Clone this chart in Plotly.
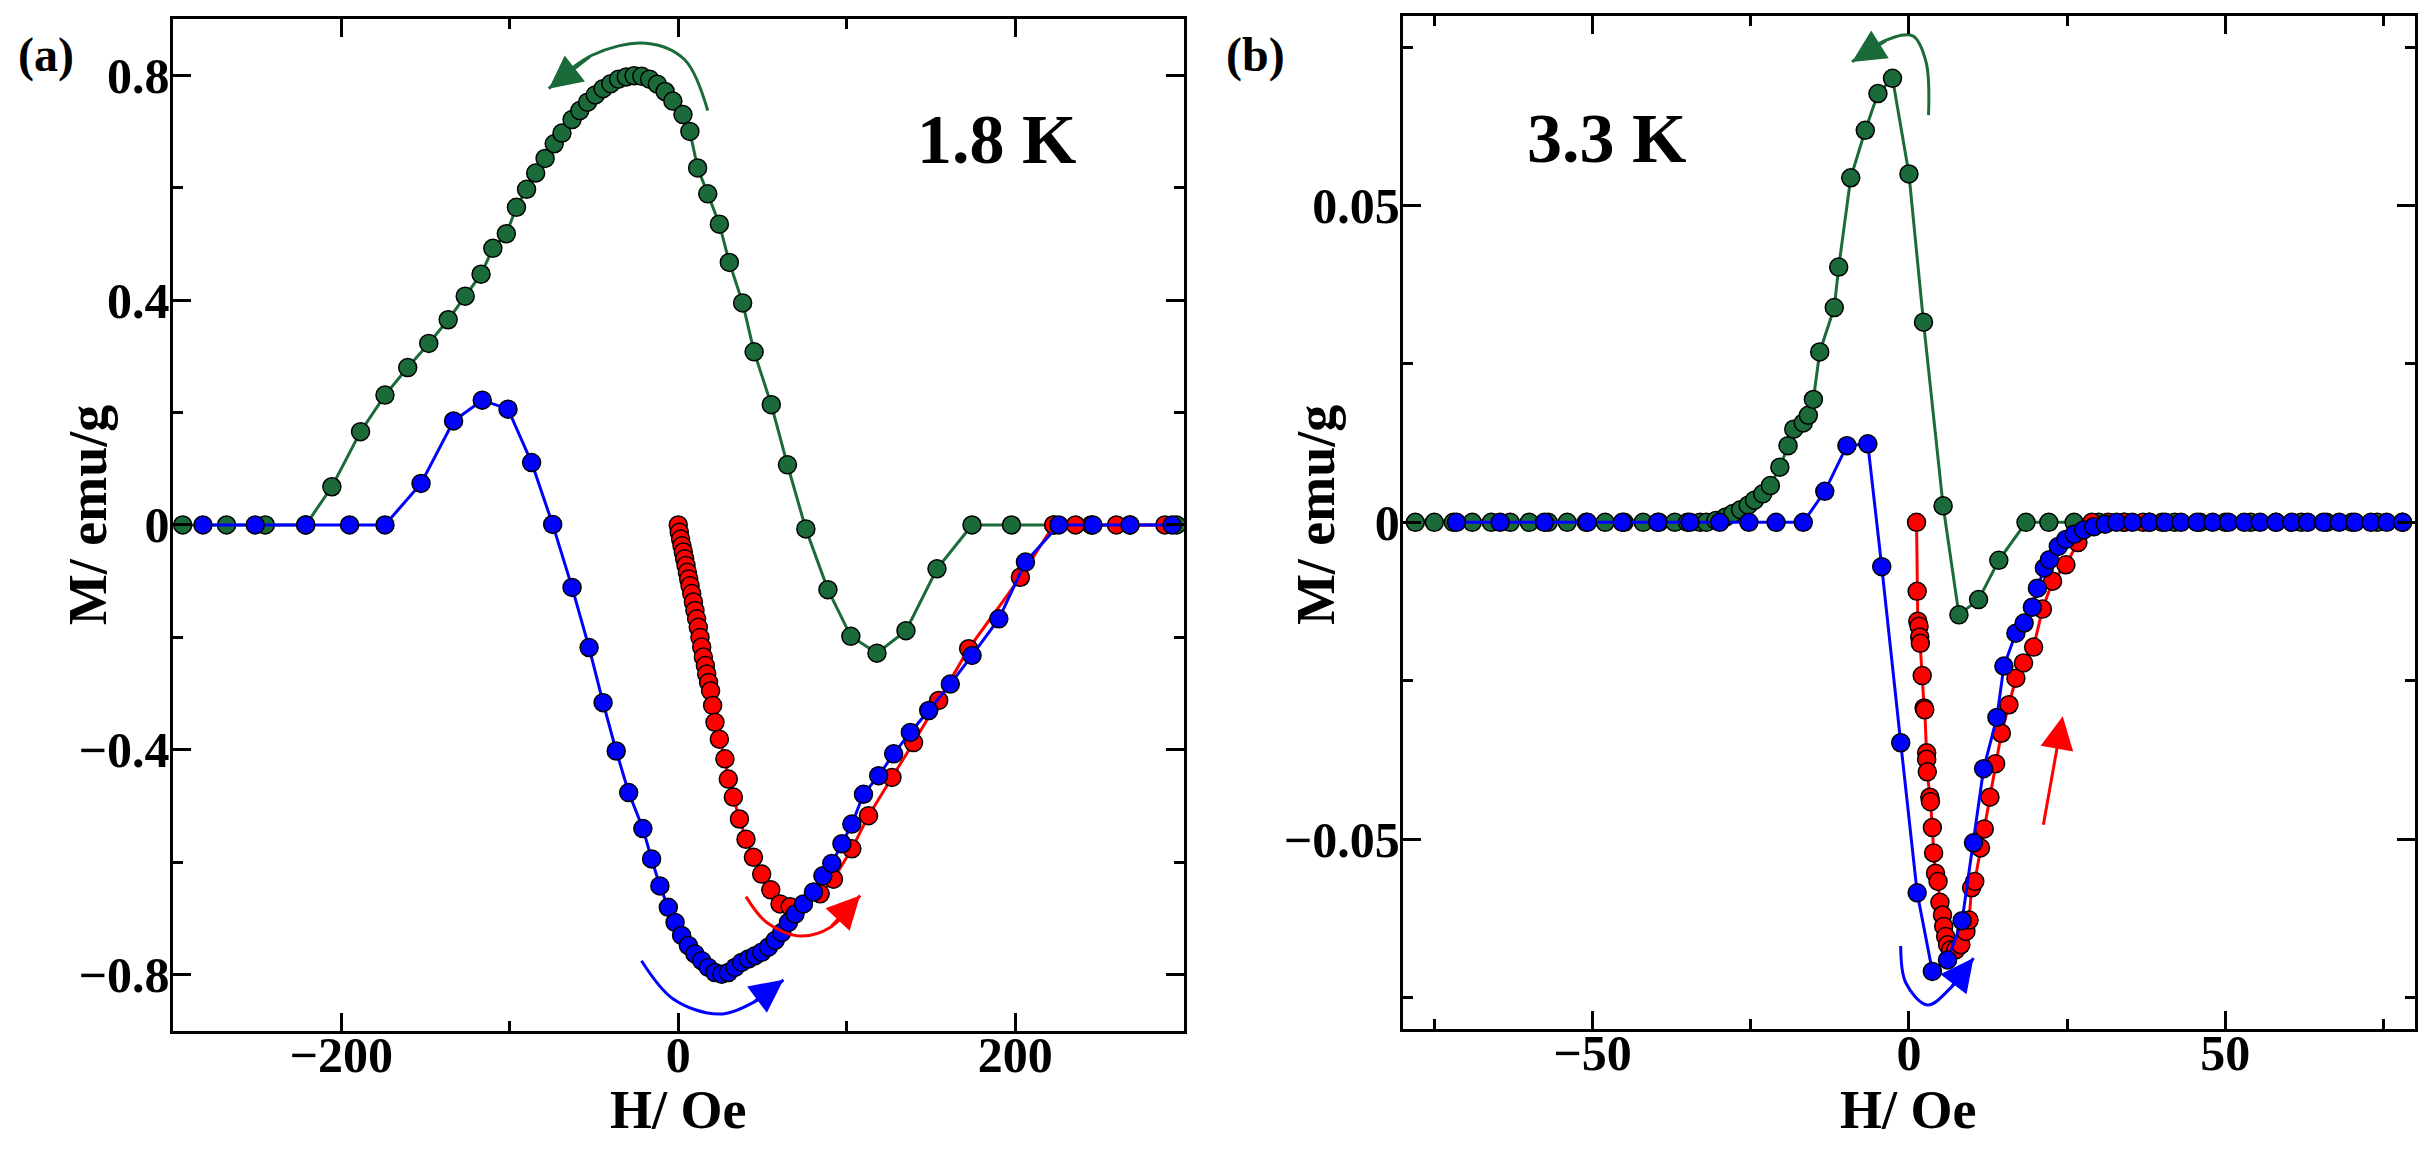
import plotly.graph_objects as go

# ── data ─────────────────────────────────────────────────────────────────────
# panel (a) 1.8 K
a_green_h = [-294, -268, -245, -221, -205.5, -188.5, -174, -160.5, -148, -136.5,
             -126.4, -117, -110, -102, -96, -90, -84.6, -79, -73.6, -69, -63,
             -58.4, -53.8, -49.2, -44.6, -40, -35.4, -30.8, -26.2, -21.6, -17,
             -12.4, -7.8, -3.2, 2.8, 6.9, 11.5, 17.5, 24.4, 30.3, 38.2, 45,
             55.2, 64.8, 75.7, 88.8, 102.4, 117.9, 135.1, 153.5, 174.3, 197.7,
             222.8, 245, 268, 295.6]
a_green_m = [0, 0, 0, 0, 0.068, 0.166, 0.231, 0.280, 0.323, 0.365,
             0.407, 0.446, 0.492, 0.518, 0.565, 0.597, 0.626, 0.652, 0.678, 0.697, 0.721,
             0.737, 0.752, 0.765, 0.776, 0.785, 0.793, 0.797, 0.799, 0.798, 0.793,
             0.784, 0.771, 0.754, 0.730, 0.700, 0.635, 0.589, 0.535, 0.467, 0.395, 0.308,
             0.214, 0.107, -0.007, -0.115, -0.198, -0.228, -0.188, -0.078, 0, 0,
             0, 0, 0, 0]

a_red_h = [0, 0.6, 1.4, 2.2, 3.0, 3.8, 4.6, 5.4, 6.2, 7.0, 8.0, 9.0, 9.9, 10.9,
           11.9, 12.9, 13.9, 14.9, 16.1, 16.9, 18.0, 19.2, 20.4, 21.8, 24.4, 27.7,
           29.7, 32.7, 36.3, 40.2, 44.6, 49.5, 54.9, 60.4, 66.4, 84.2, 92.1, 103.0,
           112.9, 126.8, 139.6, 154.5, 172.3, 203.0, 222.8, 235.7, 260, 288.7]
a_red_m = [0, -0.013, -0.025, -0.037, -0.048, -0.060, -0.072, -0.084, -0.096, -0.108,
           -0.122, -0.137, -0.152, -0.167, -0.182, -0.200, -0.217, -0.235, -0.250,
           -0.265, -0.280, -0.295, -0.321, -0.351, -0.381, -0.416, -0.452, -0.484,
           -0.523, -0.559, -0.591, -0.621, -0.649, -0.674, -0.679, -0.656, -0.630,
           -0.576, -0.517, -0.449, -0.387, -0.312, -0.220, -0.093, 0, 0, 0, 0]

a_blue_h = [-282, -251, -221, -195, -174, -152.6, -133.3, -116.3, -101, -87, -74.5,
            -63, -52.9, -44.6, -36.8, -29.4, -21, -15.8, -10.9, -5.9, -1.9, 2.0, 6.0,
            9.9, 13.9, 17.8, 21.8, 25.8, 29.7, 33.7, 37.6, 41.6, 45.6, 49.5, 53.5,
            57.5, 61.4, 65.4, 69.3, 74.3, 80.2, 85.8, 91.1, 97.1, 103.0, 109.9, 118.9,
            127.8, 137.7, 148.6, 161.4, 174.3, 190.2, 206.0, 225.8, 246, 268, 293]
a_blue_m = [0, 0, 0, 0, 0, 0.074, 0.185, 0.222, 0.206, 0.111, 0.001,
            -0.111, -0.218, -0.316, -0.402, -0.476, -0.540, -0.594, -0.642, -0.680,
            -0.707, -0.730, -0.748, -0.763, -0.775, -0.787, -0.796, -0.799, -0.796,
            -0.787, -0.778, -0.772, -0.766, -0.760, -0.751, -0.739, -0.725, -0.707,
            -0.692, -0.674, -0.653, -0.624, -0.602, -0.567, -0.532, -0.479, -0.446,
            -0.407, -0.369, -0.330, -0.283, -0.232, -0.167, -0.066, 0, 0, 0, 0]

# panel (b) 3.3 K
b_green_h = [-78, -75, -72, -69, -66, -63, -60, -57, -54, -51, -48, -45, -42,
             -39.5, -37, -35, -33, -32, -30.5, -29, -27.8, -26.6, -25.4, -24.4,
             -23.1, -21.9, -20.4, -19.1, -18.2, -16.7, -15.9, -15.1, -14.1, -11.8,
             -11.1, -9.2, -6.9, -4.9, -2.6, 0, 2.3, 5.4, 7.9, 11.0, 14.2, 18.5,
             22.1, 26.1, 30, 34, 38, 42, 46, 50, 54, 58, 62, 66, 70, 74, 78]
b_green_m = [0, 0, 0, 0, 0, 0, 0, 0, 0, 0, 0, 0, 0,
             0, 0, 0, 0, 0, 0.0003, 0.0008, 0.0014, 0.0020, 0.0027, 0.0035,
             0.0045, 0.0058, 0.0087, 0.0121, 0.0147, 0.0157, 0.0169, 0.0194, 0.0269,
             0.0339, 0.0403, 0.0544, 0.0619, 0.0677, 0.0701, 0.0550, 0.0316, 0.0026,
             -0.0146, -0.0122, -0.0060, 0, 0, 0, 0, 0, 0, 0, 0, 0, 0, 0, 0, 0, 0, 0, 0]

b_red_h = [1.2, 1.3, 1.4, 1.6, 1.7, 1.8, 2.1, 2.4, 2.5, 2.8, 2.8, 2.9, 3.3, 3.4,
           3.7, 3.9, 4.2, 4.6, 4.9, 5.3, 5.5, 5.8, 6.1, 6.6, 7.4, 8.2, 9.0, 9.5,
           9.9, 10.4, 11.3, 11.9, 12.8, 13.7, 14.6, 15.8, 16.9, 18.1, 19.7, 21.1,
           22.7, 24.8, 26.7, 28.9, 31.5, 34, 37, 40]
b_red_m = [0, -0.0109, -0.0156, -0.0164, -0.0181, -0.0191, -0.0242, -0.0293,
           -0.0296, -0.0364, -0.0374, -0.0394, -0.0434, -0.0441, -0.0482, -0.0522,
           -0.0554, -0.0567, -0.0600, -0.0620, -0.0638, -0.0654, -0.0667, -0.0675,
           -0.0675, -0.0667, -0.0646, -0.0628, -0.0577, -0.0567, -0.0514, -0.0484,
           -0.0434, -0.0381, -0.0333, -0.0288, -0.0246, -0.0222, -0.0197, -0.0137,
           -0.0093, -0.0067, -0.0032, 0, 0, 0, 0, 0]

b_blue_h = [-71.5, -64.6, -57.6, -50.8, -45.3, -39.7, -34.6, -29.9, -25.3, -21,
            -16.7, -13.3, -9.8, -6.5, -4.3, -1.3, 1.3, 3.7, 6.1, 8.4, 10.2, 11.8,
            13.9, 15.0, 16.9, 18.2, 19.5, 20.3, 21.4, 22.2, 23.6, 24.8, 26.1, 27.6,
            29.2, 31, 32.8, 35.3, 38, 40.5, 43, 45.5, 48, 50.5, 53, 55.5, 58, 60.5,
            63, 65.5, 68, 70.5, 73, 75.5, 78]
b_blue_m = [0, 0, 0, 0, 0, 0, 0, 0, 0, 0,
            0, 0.0049, 0.0121, 0.0124, -0.0070, -0.0348, -0.0585, -0.0709, -0.0691,
            -0.0629, -0.0506, -0.0389, -0.0308, -0.0227, -0.0175, -0.0159, -0.0134,
            -0.0104, -0.0072, -0.0059, -0.0038, -0.0027, -0.0019, -0.0012, -0.0007,
            -0.0003, 0, 0, 0, 0, 0, 0, 0, 0, 0, 0, 0, 0, 0, 0, 0, 0, 0, 0, 0]

# sweep-direction arrows (path points, last one is the tip)
a_arrow_green = ([17.5, 3.7, -19.3, -51.5, -76.8], [0.737, 0.828, 0.857, 0.835, 0.776])
a_arrow_red = ([40.2, 52.5, 72.3, 90.1, 107.9], [-0.661, -0.707, -0.731, -0.716, -0.659])
a_arrow_blue = ([-21.8, -3.0, 23.8, 44.6, 62.4], [-0.775, -0.843, -0.870, -0.849, -0.809])
b_arrow_green = ([3.1, 2.7, 0.6, -3.4, -9.0], [0.0643, 0.0727, 0.0768, 0.0762, 0.0727])
b_arrow_red = ([21.2, 24.3], [-0.0480, -0.0306])
b_arrow_blue = ([-1.3, -0.5, 2.9, 6.6, 10.2], [-0.0669, -0.0727, -0.0762, -0.0735, -0.0688])

# axes
a_xticks, a_xminor = [-200, 0, 200], [-300, -100, 100, 300]
a_yticks, a_ylabels = [-0.8, -0.4, 0, 0.4, 0.8], ["\u22120.8", "\u22120.4", "0", "0.4", "0.8"]
a_yminor = [-0.6, -0.2, 0.2, 0.6]
b_xticks, b_xminor = [-50, 0, 50], [-75, -25, 25, 75]
b_yticks, b_ylabels = [-0.05, 0, 0.05], ["\u22120.05", "0", "0.05"]
b_yminor = [-0.075, -0.025, 0.025, 0.075]

GREEN = "#1b6b3a"
RED = "#ff0000"
BLUE = "#0000ff"
FONT = "Liberation Serif"

fig = go.Figure()


def add_series(h, m, color, xa, ya):
    fig.add_trace(go.Scatter(
        x=h, y=m, mode="lines+markers", xaxis=xa, yaxis=ya,
        line=dict(color=color, width=3),
        marker=dict(size=18, color=color, line=dict(color="black", width=1.5)),
        showlegend=False, hoverinfo="skip",
    ))


def add_arrow(path, color, xa, ya):
    hx, my = path
    if len(hx) > 2:
        fig.add_trace(go.Scatter(
            x=hx, y=my, mode="lines", xaxis=xa, yaxis=ya,
            line=dict(color=color, width=3, shape="spline"),
            showlegend=False, hoverinfo="skip",
        ))
    fig.add_annotation(
        x=hx[-1], y=my[-1], ax=hx[-2], ay=my[-2],
        xref=xa, yref=ya, axref=xa, ayref=ya,
        text="", showarrow=True, arrowhead=2, arrowsize=2.2,
        arrowwidth=3, arrowcolor=color,
    )


# ── traces: green, red, blue (blue ends on top) ──────────────────────────────
add_series(a_green_h, a_green_m, GREEN, "x", "y")
add_series(a_red_h, a_red_m, RED, "x", "y")
add_series(a_blue_h, a_blue_m, BLUE, "x", "y")
add_series(b_green_h, b_green_m, GREEN, "x2", "y2")
add_series(b_red_h, b_red_m, RED, "x2", "y2")
add_series(b_blue_h, b_blue_m, BLUE, "x2", "y2")

add_arrow(a_arrow_green, GREEN, "x", "y")
add_arrow(a_arrow_red, RED, "x", "y")
add_arrow(a_arrow_blue, BLUE, "x", "y")
add_arrow(b_arrow_green, GREEN, "x2", "y2")
add_arrow(b_arrow_red, RED, "x2", "y2")
add_arrow(b_arrow_blue, BLUE, "x2", "y2")

# ── axes ─────────────────────────────────────────────────────────────────────
tick_font = dict(family=FONT, size=50, color="black", weight="bold")
frame = dict(showline=True, linecolor="black", linewidth=3, mirror="allticks",
             ticks="inside", ticklen=18, tickwidth=3, tickcolor="black",
             showgrid=False, zeroline=False, tickfont=tick_font, fixedrange=True)


def minor(vals):
    return dict(tickvals=vals, ticks="inside", ticklen=10, tickwidth=3,
                tickcolor="black")


fig.update_layout(
    xaxis=dict(domain=[0.0710, 0.4870], range=[-300, 300], tickvals=a_xticks,
               minor=minor(a_xminor), anchor="y", ticklabelstandoff=-22, **frame),
    yaxis=dict(domain=[0.1035, 0.9835], range=[-0.9, 0.9], tickvals=a_yticks,
               ticktext=a_ylabels, minor=minor(a_yminor), anchor="x",
               ticklabelstandoff=-10, **frame),
    xaxis2=dict(domain=[0.5770, 0.9935], range=[-80, 80], tickvals=b_xticks,
                minor=minor(b_xminor), anchor="y2", ticklabelstandoff=-22, **frame),
    yaxis2=dict(domain=[0.1052, 0.9864], range=[-0.08, 0.08], tickvals=b_yticks,
                ticktext=b_ylabels, minor=minor(b_yminor), anchor="x2",
                ticklabelstandoff=-10, **frame),
)


# ── labels ───────────────────────────────────────────────────────────────────
def label(text, x, y, size, angle=0):
    fig.add_annotation(x=x, y=y, xref="paper", yref="paper", text=text,
                       xanchor="center", yanchor="middle",
                       showarrow=False, textangle=angle,
                       font=dict(family=FONT, size=size, color="black", weight="bold"))


label("(a)", 0.0189, 0.952, 48)
label("(b)", 0.5163, 0.952, 48)
label("1.8 K", 0.4100, 0.879, 70)
label("3.3 K", 0.6610, 0.880, 70)
label("M/ emu/g", 0.0362, 0.552, 54, -90)
label("M/ emu/g", 0.5413, 0.552, 54, -90)
label("H/ Oe", 0.2790, 0.0348, 54)
label("H/ Oe", 0.7850, 0.0348, 54)

fig.update_layout(
    width=2431, height=1150, autosize=False,
    margin=dict(l=0, r=0, t=0, b=0),
    paper_bgcolor="white", plot_bgcolor="white",
)

fig.write_html("out.html", config={"displayModeBar": False},
               post_script="document.body.style.margin='0';")
